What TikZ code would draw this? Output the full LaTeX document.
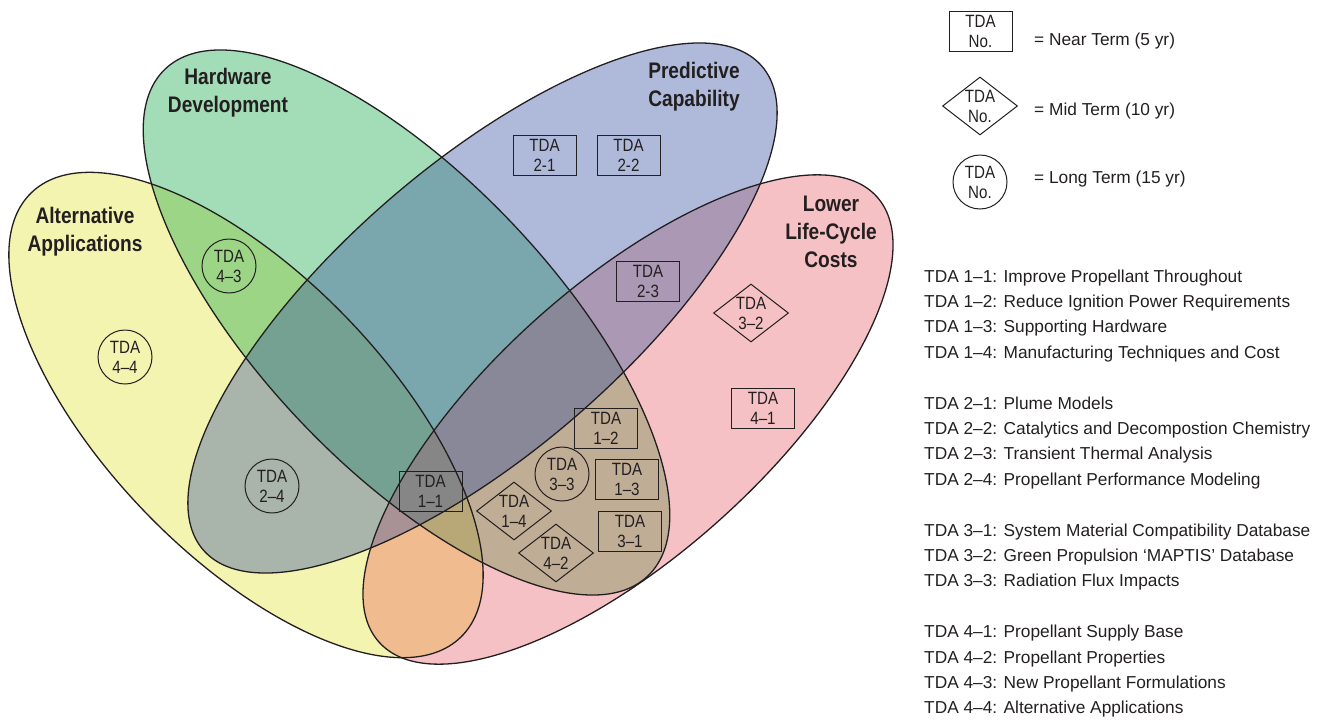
\documentclass[tikz,border=0pt]{standalone}
\usepackage{fontspec}
\setmainfont{Liberation Sans}
\newfontfamily\narrowfont[FakeStretch=0.85]{Liberation Sans}
\usetikzlibrary{shapes.geometric}

\definecolor{linecol}{RGB}{35,31,32}
\definecolor{colY}{RGB}{243,244,176}
\definecolor{colG}{RGB}{163,221,183}
\definecolor{colB}{RGB}{175,186,219}
\definecolor{colP}{RGB}{246,193,196}
\definecolor{colYG}{RGB}{157,213,134}
\definecolor{colYB}{RGB}{169,180,170}
\definecolor{colYP}{RGB}{240,187,143}
\definecolor{colGB}{RGB}{122,166,174}
\definecolor{colGP}{RGB}{192,173,150}
\definecolor{colBP}{RGB}{170,152,181}
\definecolor{colYGB}{RGB}{116,161,145}
\definecolor{colYGP}{RGB}{184,168,120}
\definecolor{colYBP}{RGB}{168,146,150}
\definecolor{colGBP}{RGB}{137,136,152}
\definecolor{colYGBP}{RGB}{134,134,134}

\newcommand\tdafont{\narrowfont\fontsize{17.8}{20}\selectfont}
\newcommand\titlefont{\narrowfont\bfseries\fontsize{22.5}{28}\selectfont}
\newcommand\keyfont{\fontsize{17.3}{25.4}\selectfont}

% the four sets
\newcommand\pathY{(246,415) ellipse [x radius=309, y radius=140]}
\newcommand\pathG{(406.5,322.5) ellipse [x radius=350, y radius=145]}
\newcommand\pathB{(482.5,308) ellipse [x radius=369.5, y radius=143]}
\newcommand\pathP{(628,419.5) ellipse [x radius=334, y radius=136]}

\tikzset{
  rotY/.style={rotate around={-46:(246,415)}},
  rotG/.style={rotate around={-46.4:(406.5,322.5)}},
  rotB/.style={rotate around={40.9:(482.5,308)}},
  rotP/.style={rotate around={41.8:(628,419.5)}},
  outline/.style={draw=linecol, line width=1.3pt},
  tdabox/.style={draw=linecol, line width=1pt, rectangle, minimum width=63pt, minimum height=40pt, inner sep=0pt, align=center, font=\tdafont, text=linecol},
  tdadia/.style={draw=linecol, line width=1pt, diamond, aspect=1.3, minimum width=75pt, minimum height=58pt, inner sep=0pt, align=center, font=\tdafont, text=linecol},
  tdacirc/.style={draw=linecol, line width=1pt, circle, minimum size=54pt, inner sep=0pt, align=center, font=\tdafont, text=linecol},
  settitle/.style={align=center, font=\titlefont, text=linecol, inner sep=0pt},
  keytext/.style={anchor=base west, font=\keyfont, text=linecol, inner sep=0pt}
}

\begin{document}
\begin{tikzpicture}[x=1pt, y=-1pt]
  \useasboundingbox (0,0) rectangle (1323,723);

  % single sets
  \fill[colY, rotY] \pathY;
  \fill[colG, rotG] \pathG;
  \fill[colB, rotB] \pathB;
  \fill[colP, rotP] \pathP;

  % pairs
  \begin{scope}\clip[rotY] \pathY; \clip[rotG] \pathG; \fill[colYG] (0,0) rectangle (1323,723);\end{scope}
  \begin{scope}\clip[rotY] \pathY; \clip[rotB] \pathB; \fill[colYB] (0,0) rectangle (1323,723);\end{scope}
  \begin{scope}\clip[rotY] \pathY; \clip[rotP] \pathP; \fill[colYP] (0,0) rectangle (1323,723);\end{scope}
  \begin{scope}\clip[rotG] \pathG; \clip[rotB] \pathB; \fill[colGB] (0,0) rectangle (1323,723);\end{scope}
  \begin{scope}\clip[rotG] \pathG; \clip[rotP] \pathP; \fill[colGP] (0,0) rectangle (1323,723);\end{scope}
  \begin{scope}\clip[rotB] \pathB; \clip[rotP] \pathP; \fill[colBP] (0,0) rectangle (1323,723);\end{scope}

  % triples
  \begin{scope}\clip[rotY] \pathY; \clip[rotG] \pathG; \clip[rotB] \pathB; \fill[colYGB] (0,0) rectangle (1323,723);\end{scope}
  \begin{scope}\clip[rotY] \pathY; \clip[rotG] \pathG; \clip[rotP] \pathP; \fill[colYGP] (0,0) rectangle (1323,723);\end{scope}
  \begin{scope}\clip[rotY] \pathY; \clip[rotB] \pathB; \clip[rotP] \pathP; \fill[colYBP] (0,0) rectangle (1323,723);\end{scope}
  \begin{scope}\clip[rotG] \pathG; \clip[rotB] \pathB; \clip[rotP] \pathP; \fill[colGBP] (0,0) rectangle (1323,723);\end{scope}

  % all four
  \begin{scope}\clip[rotY] \pathY; \clip[rotG] \pathG; \clip[rotB] \pathB; \clip[rotP] \pathP; \fill[colYGBP] (0,0) rectangle (1323,723);\end{scope}

  % outlines
  \draw[outline, rotY] \pathY;
  \draw[outline, rotG] \pathG;
  \draw[outline, rotB] \pathB;
  \draw[outline, rotP] \pathP;

  % set titles
  \node (hwdev) [settitle] at (228,93) {Hardware\\Development};
  \node (predcap) [settitle] at (694,86.5) {Predictive\\Capability};
  \node (altapp) [settitle] at (85,231.5) {Alternative\\Applications};
  \node (lowlcc) [settitle] at (831,231.5) {Lower\\Life-Cycle\\Costs};

  % TDAs
  \node (t21) [tdabox] at (544.5,155) {TDA\\2-1};
  \node (t22) [tdabox] at (628.5,155) {TDA\\2-2};
  \node (t23) [tdabox] at (648,281) {TDA\\2-3};
  \node (t32) [tdadia] at (751,313) {TDA\\3–2};
  \node (t41) [tdabox] at (763,408) {TDA\\4–1};
  \node (t12) [tdabox] at (606,428) {TDA\\1–2};
  \node (t33) [tdacirc] at (562,474) {TDA\\3–3};
  \node (t13) [tdabox] at (627,479) {TDA\\1–3};
  \node (t31) [tdabox] at (630,531) {TDA\\3–1};
  \node (t14) [tdadia] at (514,511) {TDA\\1–4};
  \node (t42) [tdadia] at (556,553) {TDA\\4–2};
  \node (t11) [tdabox] at (430.5,491) {TDA\\1–1};
  \node (t24) [tdacirc] at (272,486) {TDA\\2–4};
  \node (t44) [tdacirc] at (125,357) {TDA\\4–4};
  \node (t43) [tdacirc] at (229,266) {TDA\\4–3};

  % key
  \node (keynear) [tdabox] at (980.5,31.5) {TDA\\No.};
  \node (keymid) [tdadia] at (980,106) {TDA\\No.};
  \node (keylong) [tdacirc] at (980,182) {TDA\\No.};
  \node (neartxt) [keytext] at (1034,45) {= Near Term (5 yr)};
  \node (midtxt) [keytext] at (1034,115) {= Mid Term (10 yr)};
  \node (longtxt) [keytext] at (1034,183) {= Long Term (15 yr)};

  % TDA list
  \foreach \k/\txt in {0/{TDA 1–1: Improve Propellant Throughout},
                       1/{TDA 1–2: Reduce Ignition Power Requirements},
                       2/{TDA 1–3: Supporting Hardware},
                       3/{TDA 1–4: Manufacturing Techniques and Cost},
                       5/{TDA 2–1: Plume Models},
                       6/{TDA 2–2: Catalytics and Decompostion Chemistry},
                       7/{TDA 2–3: Transient Thermal Analysis},
                       8/{TDA 2–4: Propellant Performance Modeling},
                       10/{TDA 3–1: System Material Compatibility Database},
                       11/{TDA 3–2: Green Propulsion ‘MAPTIS’ Database},
                       12/{TDA 3–3: Radiation Flux Impacts},
                       14/{TDA 4–1: Propellant Supply Base},
                       15/{TDA 4–2: Propellant Properties},
                       16/{TDA 4–3: New Propellant Formulations},
                       17/{TDA 4–4: Alternative Applications}}
    \node (item\k) [keytext] at (924,282+25.4*\k) {\txt};
\end{tikzpicture}
\end{document}
